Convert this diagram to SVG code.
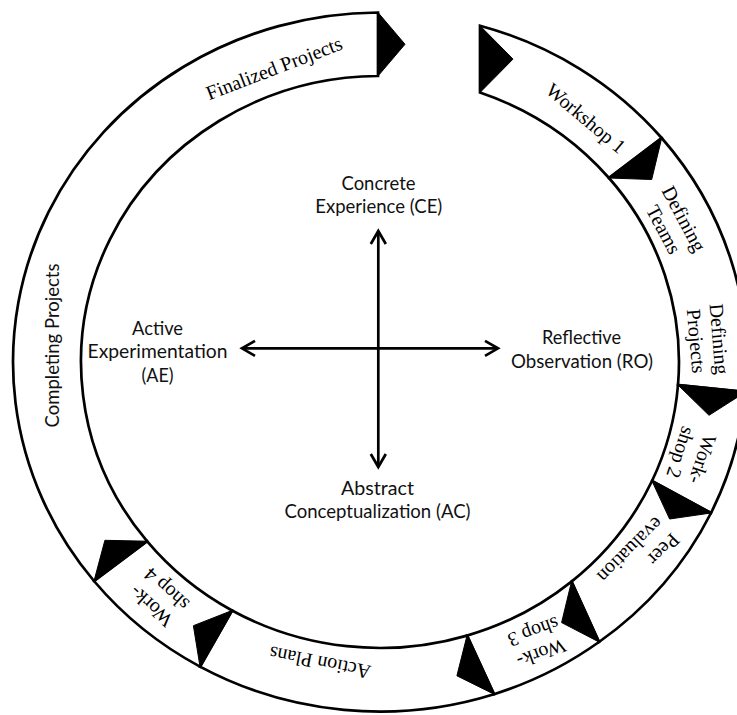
<svg xmlns="http://www.w3.org/2000/svg" width="737" height="715" viewBox="0 0 737 715">
  <style>
    .seg { fill: #fff; stroke: #000; stroke-width: 2.7; stroke-linejoin: miter; }
    .tip { fill: #000; stroke: #000; stroke-width: 1; stroke-linejoin: miter; }
    .ring-label { font-family: "Liberation Serif", "Times New Roman", serif; font-size: 20px; fill: #000; }
    .ring-sans { font-family: Lato, "Noto Sans", sans-serif; font-size: 18.5px; fill: #111; }
    .mode { font-family: Lato, "Noto Sans", sans-serif; font-size: 18.5px; fill: #111; text-anchor: middle; }
    .axis { fill: none; stroke: #000; stroke-width: 2.7; }
  </style>
  <defs>
    <marker id="ah" viewBox="-16 -10 20 20" refX="0" refY="0" markerWidth="20" markerHeight="20" orient="auto-start-reverse" markerUnits="userSpaceOnUse">
      <path d="M-13,-7.5 L0,0 L-13,7.5" fill="none" stroke="#000" stroke-width="2.7"/>
    </marker>
  </defs>
  <rect width="737" height="715" fill="#fff"/>

  <!-- outer cycle: segments run clockwise from the top gap -->
  <g id="cycle">
    <g id="seg-workshop1">
      <path class="seg" d="M480,25.7 A367,349.5 0 0 1 661.7,138 L609,178 A299,286 0 0 0 480,92.5 Z"/>
      <text class="ring-label" text-anchor="middle" transform="translate(586,118) rotate(40)" y="7">Workshop 1</text>
    </g>
    <g id="seg-defining">
      <path class="seg" d="M661.7,138 A367,349.5 0 0 1 745.6,392 L678,385 A299,286 0 0 0 609,178 Z"/>
      <text class="ring-label" text-anchor="middle" transform="translate(674,224) rotate(62)"><tspan x="0" y="-4.5">Defining</tspan><tspan x="0" y="18.5">Teams</tspan></text>
      <text class="ring-label" text-anchor="middle" transform="translate(708,340) rotate(85)"><tspan x="0" y="-4.5">Defining</tspan><tspan x="0" y="18.5">Projects</tspan></text>
    </g>
    <g id="seg-workshop2">
      <path class="seg" d="M745.6,392 A367,349.5 0 0 1 711,513 L652,481 A299,286 0 0 0 678,385 Z"/>
      <text class="ring-label" text-anchor="middle" transform="translate(692,456) rotate(108)"><tspan x="0" y="-4.5">Work-</tspan><tspan x="0" y="18.5">shop 2</tspan></text>
    </g>
    <g id="seg-peer">
      <path class="seg" d="M711,513 A367,349.5 0 0 1 599,642 L571.5,581.6 A299,286 0 0 0 652,481 Z"/>
      <text class="ring-label" transform="translate(638.8,558.3) rotate(135)"><tspan x="-41.6" y="-4.5">Peer</tspan><tspan x="-41.6" y="18.5">evaluation</tspan></text>
    </g>
    <g id="seg-workshop3">
      <path class="seg" d="M599,642 A367,349.5 0 0 1 494,694.2 L467,635.6 A299,286 0 0 0 571.5,581.6 Z"/>
      <text class="ring-label" text-anchor="middle" transform="translate(537.5,643) rotate(160)"><tspan x="0" y="-4.5">Work-</tspan><tspan x="0" y="18.5">shop 3</tspan></text>
    </g>
    <g id="seg-action">
      <path class="seg" d="M494,694.2 A367,349.5 0 0 1 200,666.6 L232,610.5 A299,286 0 0 0 467,635.6 Z"/>
      <text class="ring-label" text-anchor="middle" transform="translate(320,663) rotate(191)" y="7">Action Plans</text>
    </g>
    <g id="seg-workshop4">
      <path class="seg" d="M200,666.6 A367,349.5 0 0 1 94,581 L147,541.2 A299,286 0 0 0 232,610.5 Z"/>
      <text class="ring-label" text-anchor="middle" transform="translate(158.5,598) rotate(222)"><tspan x="0" y="-4.5">Work-</tspan><tspan x="0" y="18.5">shop 4</tspan></text>
    </g>
    <g id="seg-projects">
      <path class="seg" d="M94,581 A367,349.5 0 0 1 378,12.5 L378,76 A299,286 0 0 0 147,541.2 Z"/>
      <text class="ring-sans" text-anchor="middle" transform="translate(52,345.5) rotate(-90)" y="6.5" textLength="164" lengthAdjust="spacingAndGlyphs">Completing Projects</text>
      <text class="ring-label" text-anchor="middle" transform="translate(274,68) rotate(-21)" y="7">Finalized Projects</text>
    </g>
    <!-- arrow tips at the segment joints -->
    <g id="tips">
      <polygon class="tip" points="378,12.5 405,44.25 378,76"/>
      <polygon class="tip" points="480,25.7 513,59.1 480,92.5"/>
      <polygon class="tip" points="661.7,138 651.7,179.5 609,178"/>
      <polygon class="tip" points="745.6,392 709,415.3 678,385"/>
      <polygon class="tip" points="711,513 669.6,519 652,481"/>
      <polygon class="tip" points="599,642 561.6,622.6 571.5,581.6"/>
      <polygon class="tip" points="494,694.2 456.9,675.8 467,635.6"/>
      <polygon class="tip" points="200,666.6 193.4,625.7 232,610.5"/>
      <polygon class="tip" points="94,581 104.9,540.3 147,541.2"/>
    </g>
  </g>

  <!-- learning modes -->
  <g id="node-ce">
    <text class="mode" x="378.5" y="190" textLength="74" lengthAdjust="spacingAndGlyphs">Concrete</text>
    <text class="mode" x="378.8" y="213.3" textLength="127" lengthAdjust="spacingAndGlyphs">Experience (CE)</text>
  </g>
  <g id="node-ro">
    <text class="mode" x="581.5" y="344" textLength="79" lengthAdjust="spacingAndGlyphs">Reflective</text>
    <text class="mode" x="582" y="368.3" textLength="142" lengthAdjust="spacingAndGlyphs">Observation (RO)</text>
  </g>
  <g id="node-ac">
    <text class="mode" x="377.5" y="495" textLength="73" lengthAdjust="spacingAndGlyphs">Abstract</text>
    <text class="mode" x="377.5" y="518.3" textLength="186" lengthAdjust="spacingAndGlyphs">Conceptualization (AC)</text>
  </g>
  <g id="node-ae">
    <text class="mode" x="157.5" y="335" textLength="51" lengthAdjust="spacingAndGlyphs">Active</text>
    <text class="mode" x="157.5" y="358.3" textLength="140" lengthAdjust="spacingAndGlyphs">Experimentation</text>
    <text class="mode" x="157.5" y="381.7" textLength="32" lengthAdjust="spacingAndGlyphs">(AE)</text>
  </g>

  <!-- axes between the modes -->
  <g id="connectors">
    <line class="axis" x1="378.3" y1="231" x2="378.3" y2="467" marker-start="url(#ah)" marker-end="url(#ah)"/>
    <line class="axis" x1="242" y1="348.3" x2="498" y2="348.3" marker-start="url(#ah)" marker-end="url(#ah)"/>
  </g>
</svg>
